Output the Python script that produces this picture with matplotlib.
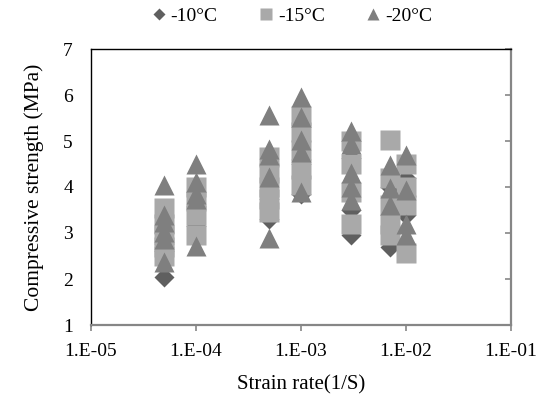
import matplotlib
matplotlib.use("Agg")
import matplotlib.pyplot as plt
from matplotlib.ticker import FixedLocator, FixedFormatter, NullLocator

plt.rcParams['font.family'] = ['Liberation Serif', 'DejaVu Serif']

# strain rates (1/S)
rates = [5e-5, 1e-4, 5e-4, 1e-3, 3e-3, 7e-3, 1e-2]

# compressive strength (MPa) per strain rate
t10 = [
    [2.05, 2.6, 3.0],
    [3.15, 3.9],
    [3.75, 3.3],
    [3.85, 4.5, 5.3],
    [2.95, 3.5, 4.63, 5.0],
    [2.7, 3.4, 4.0],
    [3.4, 4.2],
]
t15 = [
    [3.55, 3.2, 2.95, 2.7, 2.5],
    [4.0, 3.7, 3.4, 2.95],
    [4.65, 4.3, 4.0, 3.75, 3.45],
    [5.55, 5.2, 4.8, 4.4, 4.05],
    [5.0, 4.5, 3.9, 3.2],
    [5.02, 4.2, 3.6, 3.2, 2.95],
    [4.5, 4.0, 3.6, 2.57],
]
t20 = [
    [4.05, 3.4, 3.25, 3.03, 2.87, 2.38],
    [4.5, 4.1, 3.85, 3.75, 2.72],
    [5.57, 4.83, 4.7, 4.22, 2.9],
    [5.95, 5.52, 5.02, 4.76, 3.9],
    [5.22, 4.93, 4.3, 4.0, 3.72],
    [4.48, 3.98, 3.6],
    [4.7, 3.93, 3.2, 2.95],
]
labels = ['-10°C', '-15°C', '-20°C']
xticks = [1e-5, 1e-4, 1e-3, 1e-2, 1e-1]
xticklabels = ['1.E-05', '1.E-04', '1.E-03', '1.E-02', '1.E-01']
yticks = [1, 2, 3, 4, 5, 6, 7]

fig = plt.figure(figsize=(5.43, 4.08), dpi=100)
ax = fig.add_axes([91/543, 1-325/408, 420/543, 276/408])

def flat(series):
    xs, ys = [], []
    for r, vals in zip(rates, series):
        for v in vals:
            xs.append(r)
            ys.append(v)
    return xs, ys

x, y = flat(t10)
ax.plot(x, y, 'D', ms=10, color='#5f5f5f', mec='none', label=labels[0], zorder=2)
x, y = flat(t15)
ax.plot(x, y, 's', ms=14, color='#a9a9a9', mec='none', label=labels[1], zorder=3)
x, y = flat(t20)
ax.plot(x, y, '^', ms=14.5, color='#7f7f7f', mec='none', label=labels[2], zorder=4)

ax.set_xscale('log')
ax.set_xlim(1e-5, 1e-1)
ax.set_ylim(1, 7)
ax.xaxis.set_major_locator(FixedLocator(xticks))
ax.xaxis.set_major_formatter(FixedFormatter(xticklabels))
ax.xaxis.set_minor_locator(NullLocator())
ax.set_yticks(yticks)

for s in ['top', 'left']:
    ax.spines[s].set_color('black')
    ax.spines[s].set_linewidth(1.0)
for s in ['bottom', 'right']:
    ax.spines[s].set_color('#868686')
    ax.spines[s].set_linewidth(1.6)

ax.tick_params(axis='x', direction='out', length=4, width=1.2, color='#868686',
               labelsize=14, pad=9)
ax.tick_params(axis='y', left=False, right=True, labelleft=True, labelright=False,
               direction='in', length=4, width=1.2, color='#868686', labelsize=14, pad=13)

ax.set_xlabel('Strain rate(1/S)', fontsize=15, labelpad=11)
ax.set_ylabel('Compressive strength (MPa)', fontsize=15.5, labelpad=14)

fig.legend(loc='upper center', bbox_to_anchor=(0.535, 1.025), ncol=3, frameon=False,
           fontsize=14, markerscale=0.6, handletextpad=0.1, columnspacing=2.0,
           handlelength=1.0)

fig.savefig('out.png', dpi=100)
